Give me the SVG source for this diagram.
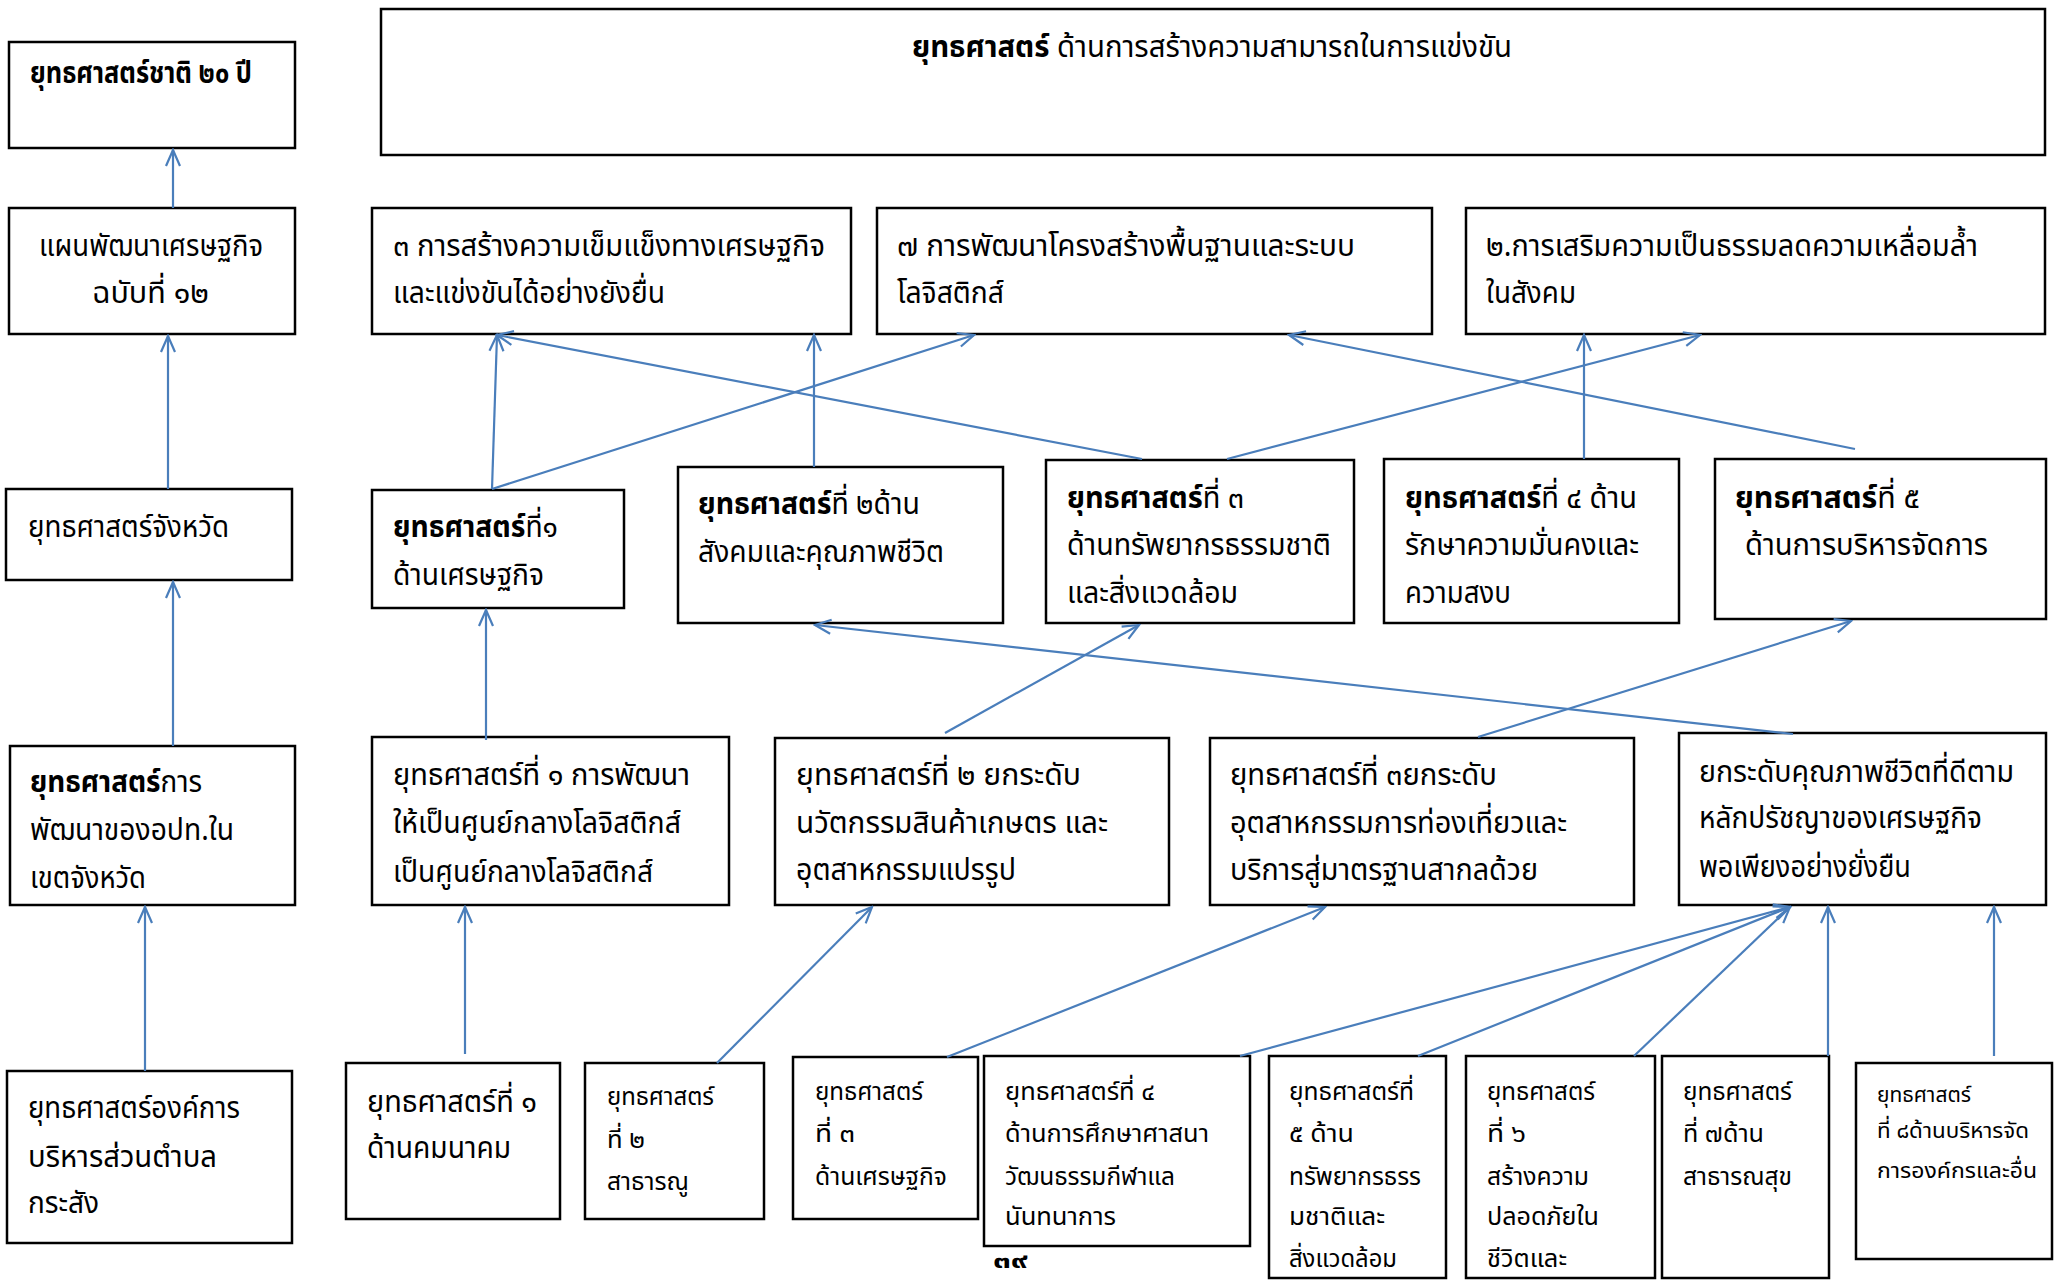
<svg xmlns="http://www.w3.org/2000/svg" width="2054" height="1280" viewBox="0 0 2054 1280">
<style>
.box{fill:#fff;stroke:#000;stroke-width:2.5}
text{font-family:"Noto Sans Thai","Noto Sans","DejaVu Sans",sans-serif;font-size:30px;fill:#000}
.b{font-weight:bold}
.s{font-size:25px}
.xs{font-size:22px}
.c line{stroke:#4a7ebb;stroke-width:2.2;marker-end:url(#ah)}
</style>
<defs>
<marker id="ah" markerUnits="userSpaceOnUse" markerWidth="22" markerHeight="20" viewBox="-20 -10 22 20" refX="0" refY="0" orient="auto">
<path d="M-16,-7 L0,0 L-16,7" fill="none" stroke="#4a7ebb" stroke-width="2.2"/>
</marker>
</defs>
<rect width="2054" height="1280" fill="#fff"/>

<g id="title">
<rect class="box" x="381" y="9" width="1664" height="146"/>
<text x="912" y="57" textLength="600" lengthAdjust="spacingAndGlyphs"><tspan class="b">ยุทธศาสตร์</tspan>  ด้านการสร้างความสามารถในการแข่งขัน</text>
</g>
<g id="nat20">
<rect class="box" x="9" y="42" width="286" height="106"/>
<text class="b" x="30" y="83" textLength="222" lengthAdjust="spacingAndGlyphs">ยุทธศาสตร์ชาติ ๒๐ ปี</text>
</g>
<g id="plan12">
<rect class="box" x="9" y="208" width="286" height="126"/>
<text x="39" y="256" textLength="224" lengthAdjust="spacingAndGlyphs">แผนพัฒนาเศรษฐกิจ</text>
<text x="92" y="303" textLength="117" lengthAdjust="spacingAndGlyphs">ฉบับที่ ๑๒</text>
</g>
<g id="comp3">
<rect class="box" x="372" y="208" width="479" height="126"/>
<text x="393" y="256" textLength="432" lengthAdjust="spacingAndGlyphs">๓  การสร้างความเข็มแข็งทางเศรษฐกิจ</text>
<text x="393" y="303" textLength="272" lengthAdjust="spacingAndGlyphs">และแข่งขันได้อย่างยังยื่น</text>
</g>
<g id="comp7">
<rect class="box" x="877" y="208" width="555" height="126"/>
<text x="897" y="256" textLength="458" lengthAdjust="spacingAndGlyphs">๗  การพัฒนาโครงสร้างพื้นฐานและระบบ</text>
<text x="897" y="303" textLength="107" lengthAdjust="spacingAndGlyphs">โลจิสติกส์</text>
</g>
<g id="comp2">
<rect class="box" x="1466" y="208" width="579" height="126"/>
<text x="1486" y="256" textLength="492" lengthAdjust="spacingAndGlyphs">๒.การเสริมความเป็นธรรมลดความเหลื่อมล้ำ</text>
<text x="1486" y="303" textLength="90" lengthAdjust="spacingAndGlyphs">ในสังคม</text>
</g>
<g id="province">
<rect class="box" x="6" y="489" width="286" height="91"/>
<text x="28" y="537" textLength="201" lengthAdjust="spacingAndGlyphs">ยุทธศาสตร์จังหวัด</text>
</g>
<g id="s1">
<rect class="box" x="372" y="490" width="252" height="118"/>
<text x="393" y="537" textLength="165" lengthAdjust="spacingAndGlyphs"><tspan class="b">ยุทธศาสตร์</tspan>ที่๑</text>
<text x="393" y="585" textLength="151" lengthAdjust="spacingAndGlyphs">ด้านเศรษฐกิจ</text>
</g>
<g id="s2">
<rect class="box" x="678" y="467" width="325" height="156"/>
<text x="698" y="514" textLength="222" lengthAdjust="spacingAndGlyphs"><tspan class="b">ยุทธศาสตร์</tspan>ที่ ๒ด้าน</text>
<text x="698" y="562" textLength="246" lengthAdjust="spacingAndGlyphs">สังคมและคุณภาพชีวิต</text>
</g>
<g id="s3">
<rect class="box" x="1046" y="460" width="308" height="163"/>
<text x="1067" y="508" textLength="177" lengthAdjust="spacingAndGlyphs"><tspan class="b">ยุทธศาสตร์</tspan>ที่ ๓</text>
<text x="1067" y="555" textLength="264" lengthAdjust="spacingAndGlyphs">ด้านทรัพยากรธรรมชาติ</text>
<text x="1067" y="603" textLength="171" lengthAdjust="spacingAndGlyphs">และสิ่งแวดล้อม</text>
</g>
<g id="s4">
<rect class="box" x="1384" y="459" width="295" height="164"/>
<text x="1405" y="508" textLength="232" lengthAdjust="spacingAndGlyphs"><tspan class="b">ยุทธศาสตร์</tspan>ที่ ๔ ด้าน</text>
<text x="1405" y="555" textLength="234" lengthAdjust="spacingAndGlyphs">รักษาความมั่นคงและ</text>
<text x="1405" y="603" textLength="106" lengthAdjust="spacingAndGlyphs">ความสงบ</text>
</g>
<g id="s5">
<rect class="box" x="1715" y="459" width="331" height="160"/>
<text x="1735" y="508" textLength="185" lengthAdjust="spacingAndGlyphs"><tspan class="b">ยุทธศาสตร์</tspan>ที่  ๕</text>
<text x="1745" y="555" textLength="243" lengthAdjust="spacingAndGlyphs">ด้านการบริหารจัดการ</text>
</g>
<g id="lao">
<rect class="box" x="10" y="746" width="285" height="159"/>
<text x="30" y="792" textLength="172" lengthAdjust="spacingAndGlyphs"><tspan class="b">ยุทธศาสตร์</tspan>การ</text>
<text x="30" y="840" textLength="204" lengthAdjust="spacingAndGlyphs">พัฒนาของอปท.ใน</text>
<text x="30" y="888" textLength="116" lengthAdjust="spacingAndGlyphs">เขตจังหวัด</text>
</g>
<g id="m1">
<rect class="box" x="372" y="737" width="357" height="168"/>
<text x="393" y="785" textLength="297" lengthAdjust="spacingAndGlyphs">ยุทธศาสตร์ที่ ๑ การพัฒนา</text>
<text x="393" y="833" textLength="288" lengthAdjust="spacingAndGlyphs">ให้เป็นศูนย์กลางโลจิสติกส์</text>
<text x="393" y="882" textLength="260" lengthAdjust="spacingAndGlyphs">เป็นศูนย์กลางโลจิสติกส์</text>
</g>
<g id="m2">
<rect class="box" x="775" y="738" width="394" height="167"/>
<text x="796" y="785" textLength="285" lengthAdjust="spacingAndGlyphs">ยุทธศาสตร์ที่ ๒  ยกระดับ</text>
<text x="796" y="833" textLength="312" lengthAdjust="spacingAndGlyphs">นวัตกรรมสินค้าเกษตร  และ</text>
<text x="796" y="880" textLength="220" lengthAdjust="spacingAndGlyphs">อุตสาหกรรมแปรรูป</text>
</g>
<g id="m3">
<rect class="box" x="1210" y="738" width="424" height="167"/>
<text x="1230" y="785" textLength="267" lengthAdjust="spacingAndGlyphs">ยุทธศาสตร์ที่ ๓ยกระดับ</text>
<text x="1230" y="833" textLength="337" lengthAdjust="spacingAndGlyphs">อุตสาหกรรมการท่องเที่ยวและ</text>
<text x="1230" y="880" textLength="308" lengthAdjust="spacingAndGlyphs">บริการสู่มาตรฐานสากลด้วย</text>
</g>
<g id="m4">
<rect class="box" x="1679" y="733" width="367" height="172"/>
<text x="1699" y="782" textLength="315" lengthAdjust="spacingAndGlyphs">ยกระดับคุณภาพชีวิตที่ดีตาม</text>
<text x="1699" y="828" textLength="283" lengthAdjust="spacingAndGlyphs">หลักปรัชญาของเศรษฐกิจ</text>
<text x="1699" y="877" textLength="212" lengthAdjust="spacingAndGlyphs">พอเพียงอย่างยั่งยืน</text>
</g>
<g id="tambon">
<rect class="box" x="7" y="1071" width="285" height="172"/>
<text x="28" y="1118" textLength="212" lengthAdjust="spacingAndGlyphs">ยุทธศาสตร์องค์การ</text>
<text x="28" y="1167" textLength="189" lengthAdjust="spacingAndGlyphs">บริหารส่วนตำบล</text>
<text x="28" y="1213" textLength="71" lengthAdjust="spacingAndGlyphs">กระสัง</text>
</g>
<g id="b1">
<rect class="box" x="346" y="1063" width="214" height="156"/>
<text x="367" y="1112" textLength="170" lengthAdjust="spacingAndGlyphs">ยุทธศาสตร์ที่ ๑</text>
<text x="367" y="1158" textLength="144" lengthAdjust="spacingAndGlyphs">ด้านคมนาคม</text>
</g>
<g id="b2">
<rect class="box" x="585" y="1063" width="179" height="156"/>
<text class="s" x="607" y="1105" textLength="107" lengthAdjust="spacingAndGlyphs">ยุทธศาสตร์</text>
<text class="s" x="607" y="1148" textLength="38" lengthAdjust="spacingAndGlyphs">ที่ ๒</text>
<text class="s" x="607" y="1190" textLength="82" lengthAdjust="spacingAndGlyphs">สาธารณู</text>
</g>
<g id="b3">
<rect class="box" x="793" y="1057" width="185" height="162"/>
<text class="s" x="815" y="1100" textLength="108" lengthAdjust="spacingAndGlyphs">ยุทธศาสตร์</text>
<text class="s" x="815" y="1142" textLength="40" lengthAdjust="spacingAndGlyphs">ที่ ๓</text>
<text class="s" x="815" y="1185" textLength="132" lengthAdjust="spacingAndGlyphs">ด้านเศรษฐกิจ</text>
</g>
<g id="b4">
<rect class="box" x="984" y="1056" width="266" height="190"/>
<text class="s" x="1005" y="1100" textLength="150" lengthAdjust="spacingAndGlyphs">ยุทธศาสตร์ที่ ๔</text>
<text class="s" x="1005" y="1142" textLength="204" lengthAdjust="spacingAndGlyphs">ด้านการศึกษาศาสนา</text>
<text class="s" x="1005" y="1185" textLength="170" lengthAdjust="spacingAndGlyphs">วัฒนธรรมกีฬาแล</text>
<text class="s" x="1005" y="1225" textLength="111" lengthAdjust="spacingAndGlyphs">นันทนาการ</text>
</g>
<g id="b5">
<rect class="box" x="1269" y="1056" width="177" height="222"/>
<text class="s" x="1289" y="1100" textLength="125" lengthAdjust="spacingAndGlyphs">ยุทธศาสตร์ที่</text>
<text class="s" x="1289" y="1142" textLength="65" lengthAdjust="spacingAndGlyphs">๕ ด้าน</text>
<text class="s" x="1289" y="1185" textLength="132" lengthAdjust="spacingAndGlyphs">ทรัพยากรธรร</text>
<text class="s" x="1289" y="1225" textLength="96" lengthAdjust="spacingAndGlyphs">มชาติและ</text>
<text class="s" x="1289" y="1267" textLength="108" lengthAdjust="spacingAndGlyphs">สิ่งแวดล้อม</text>
</g>
<g id="b6">
<rect class="box" x="1466" y="1056" width="189" height="222"/>
<text class="s" x="1487" y="1100" textLength="108" lengthAdjust="spacingAndGlyphs">ยุทธศาสตร์</text>
<text class="s" x="1487" y="1142" textLength="39" lengthAdjust="spacingAndGlyphs">ที่ ๖</text>
<text class="s" x="1487" y="1185" textLength="102" lengthAdjust="spacingAndGlyphs">สร้างความ</text>
<text class="s" x="1487" y="1225" textLength="112" lengthAdjust="spacingAndGlyphs">ปลอดภัยใน</text>
<text class="s" x="1487" y="1267" textLength="80" lengthAdjust="spacingAndGlyphs">ชีวิตและ</text>
</g>
<g id="b7">
<rect class="box" x="1662" y="1056" width="167" height="222"/>
<text class="s" x="1683" y="1100" textLength="109" lengthAdjust="spacingAndGlyphs">ยุทธศาสตร์</text>
<text class="s" x="1683" y="1142" textLength="81" lengthAdjust="spacingAndGlyphs">ที่ ๗ด้าน</text>
<text class="s" x="1683" y="1185" textLength="109" lengthAdjust="spacingAndGlyphs">สาธารณสุข</text>
</g>
<g id="b8">
<rect class="box" x="1856" y="1063" width="196" height="196"/>
<text class="xs" x="1877" y="1102" textLength="94" lengthAdjust="spacingAndGlyphs">ยุทธศาสตร์</text>
<text class="xs" x="1877" y="1138" textLength="152" lengthAdjust="spacingAndGlyphs">ที่ ๘ด้านบริหารจัด</text>
<text class="xs" x="1877" y="1178" textLength="160" lengthAdjust="spacingAndGlyphs">การองค์กรและอื่น</text>
</g>
<text class="b xs" x="993" y="1268" textLength="35" lengthAdjust="spacingAndGlyphs">๓๙</text>

<g id="connectors" class="c">
<line x1="173" y1="208" x2="173" y2="150"/>
<line x1="168" y1="489" x2="168" y2="336"/>
<line x1="173" y1="746" x2="173" y2="582"/>
<line x1="145" y1="1071" x2="145" y2="907"/>
<line x1="492" y1="489" x2="497" y2="335"/>
<line x1="492" y1="489" x2="974" y2="335"/>
<line x1="814" y1="467" x2="814" y2="335"/>
<line x1="1142" y1="459" x2="497" y2="335"/>
<line x1="1227" y1="459" x2="1700" y2="335"/>
<line x1="1584" y1="459" x2="1584" y2="335"/>
<line x1="1855" y1="449" x2="1289" y2="335"/>
<line x1="486" y1="740" x2="486" y2="610"/>
<line x1="945" y1="733" x2="1139" y2="625"/>
<line x1="1478" y1="737" x2="1851" y2="621"/>
<line x1="1793" y1="734" x2="815" y2="625"/>
<line x1="465" y1="1054" x2="465" y2="907"/>
<line x1="717" y1="1063" x2="872" y2="907"/>
<line x1="947" y1="1057" x2="1325" y2="907"/>
<line x1="1240" y1="1056" x2="1790" y2="907"/>
<line x1="1418" y1="1056" x2="1790" y2="907"/>
<line x1="1634" y1="1056" x2="1790" y2="907"/>
<line x1="1828" y1="1056" x2="1828" y2="907"/>
<line x1="1994" y1="1056" x2="1994" y2="907"/>
</g>
</svg>
